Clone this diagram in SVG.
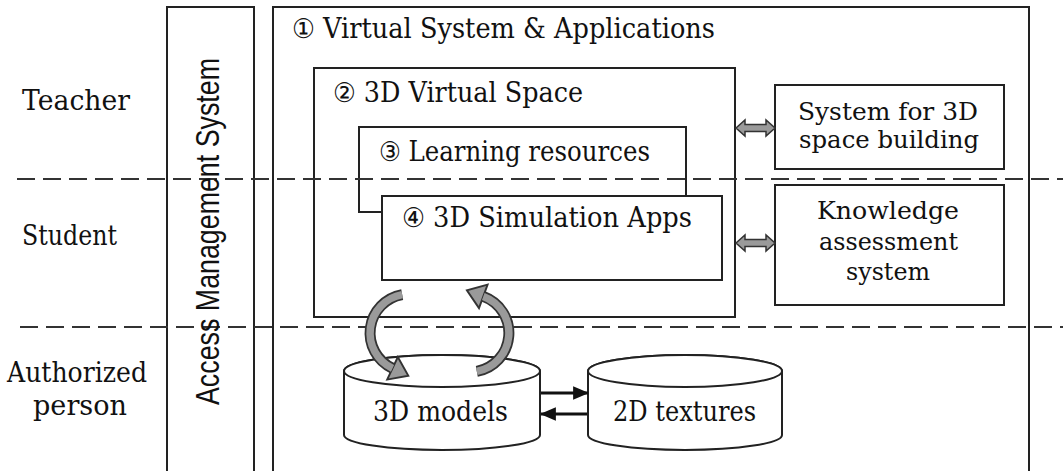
<svg xmlns="http://www.w3.org/2000/svg" width="1063" height="471" viewBox="0 0 1063 471">
<style>
.box{fill:#fff;stroke:#222;stroke-width:2}
.nofill{fill:none;stroke:#222;stroke-width:2}
.dash{stroke:#333;stroke-width:2;stroke-dasharray:18 8;fill:none}
.dbl{fill:#9a9a9a;stroke:#333;stroke-width:1.5}
.arcO{fill:none;stroke:#333;stroke-width:11}
.arcI{fill:none;stroke:#9a9a9a;stroke-width:7.5}
.blk{stroke:#111;stroke-width:3;fill:none}
</style>
<defs>
<marker id="gh" markerUnits="userSpaceOnUse" markerWidth="30" markerHeight="30" viewBox="-2 -12 18 24" refX="0" refY="0" orient="auto" overflow="visible">
<path d="M0,-10 L14,0 L0,10 Z" fill="#9a9a9a" stroke="#333" stroke-width="1.5"/>
</marker>
<marker id="bh" markerUnits="userSpaceOnUse" markerWidth="16" markerHeight="16" viewBox="0 -7 14 14" refX="13" refY="0" orient="auto">
<path d="M0,-6 L14,0 L0,6 Z" fill="#111"/>
</marker>
</defs>

<g id="access-management">
<rect class="box" x="167" y="7" width="87" height="470"/>
</g>
<g id="virtual-system">
<rect class="box" x="273" y="7" width="756" height="470"/>
</g>
<g id="virtual-space">
<rect class="box" x="314" y="68" width="421" height="249"/>
</g>
<g id="learning-resources">
<rect class="nofill" x="359" y="127" width="327" height="85"/>
</g>
<g id="simulation-apps">
<rect class="box" x="382" y="196" width="340" height="84"/>
</g>
<g id="space-building">
<rect class="box" x="775" y="85" width="229" height="84"/>
</g>
<g id="knowledge-assessment">
<rect class="box" x="775" y="185" width="229" height="120"/>
</g>
<g id="models3d">
<path class="box" d="M344,371 L344,435 A98,15 0 0,0 540,435 L540,371 A98,16 0 0,0 344,371 Z"/>
<ellipse class="box" cx="442" cy="371" rx="98" ry="16"/>
</g>
<g id="textures2d">
<path class="box" d="M588,371 L588,435 A97,15 0 0,0 782,435 L782,371 A97,16 0 0,0 588,371 Z"/>
<ellipse class="box" cx="685" cy="371" rx="97" ry="16"/>
</g>

<g id="lanes">
<line class="dash" x1="17" y1="179" x2="1063" y2="179"/>
<line class="dash" x1="20" y1="327" x2="1063" y2="327"/>
</g>

<g id="connectors">
<polygon class="dbl" points="736,128 745,120 745,124.5 766,124.5 766,120 775,128 766,136 766,131.5 745,131.5 745,136"/>
<polygon class="dbl" points="736,243 745,235 745,239.5 766,239.5 766,235 775,243 766,251 766,246.5 745,246.5 745,251"/>
<path class="arcO" d="M402.2,294.6 A39,39 0 0,0 392.5,368.3" marker-end="url(#gh)"/>
<path class="arcI" d="M402.2,294.6 A39,39 0 0,0 392.5,368.3"/>
<path class="arcO" d="M476.8,371.4 A39,39 0 0,0 483.3,296.4" marker-end="url(#gh)"/>
<path class="arcI" d="M476.8,371.4 A39,39 0 0,0 483.3,296.4"/>
<line class="blk" x1="541" y1="393" x2="588" y2="393" marker-end="url(#bh)"/>
<line class="blk" x1="587" y1="414" x2="541" y2="414" marker-end="url(#bh)"/>
</g>

<g id="labels" font-family="'DejaVu Serif', 'Liberation Serif', serif" font-size="27" fill="#111">
<text x="22" y="110" textLength="108" lengthAdjust="spacingAndGlyphs">Teacher</text>
<text x="22" y="245" textLength="95" lengthAdjust="spacingAndGlyphs">Student</text>
<text x="7" y="382" textLength="140" lengthAdjust="spacingAndGlyphs">Authorized</text>
<text x="33" y="415" textLength="94" lengthAdjust="spacingAndGlyphs">person</text>
<text font-family="'Liberation Sans', Arial, sans-serif" font-size="33" transform="translate(219,405) rotate(-90)" x="0" y="0" textLength="347" lengthAdjust="spacingAndGlyphs">Access Management System</text>
<text x="292" y="38" textLength="423" lengthAdjust="spacingAndGlyphs">① Virtual System &amp; Applications</text>
<text x="333" y="102" textLength="250" lengthAdjust="spacingAndGlyphs">② 3D Virtual Space</text>
<text x="379" y="161" textLength="271" lengthAdjust="spacingAndGlyphs">③ Learning resources</text>
<text x="402" y="227" textLength="290" lengthAdjust="spacingAndGlyphs">④ 3D Simulation Apps</text>
<text font-size="25" x="798" y="120" textLength="180" lengthAdjust="spacingAndGlyphs">System for 3D</text>
<text font-size="25" x="799" y="148" textLength="180" lengthAdjust="spacingAndGlyphs">space building</text>
<text font-size="25" x="817" y="219" textLength="142" lengthAdjust="spacingAndGlyphs">Knowledge</text>
<text font-size="25" x="819" y="250" textLength="139" lengthAdjust="spacingAndGlyphs">assessment</text>
<text font-size="25" x="846" y="280" textLength="84" lengthAdjust="spacingAndGlyphs">system</text>
<text x="373" y="421" textLength="135" lengthAdjust="spacingAndGlyphs">3D models</text>
<text x="613" y="421" textLength="143" lengthAdjust="spacingAndGlyphs">2D textures</text>
</g>
</svg>
